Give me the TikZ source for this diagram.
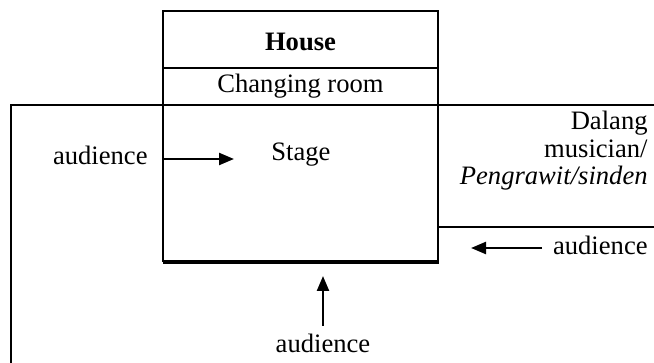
\documentclass[tikz,border=0pt]{standalone}
\usepackage{fontspec}
\setmainfont{Liberation Serif}
\usetikzlibrary{arrows.meta}
\begin{document}
\begin{tikzpicture}[x=0.5pt,y=-0.5pt,
  every node/.style={font=\fontsize{13.3}{13.6}\selectfont, inner sep=0pt},
  wall/.style={line width=1.15pt, line cap=rect},
  edge/.style={line width=2.4pt},
  arr/.style={line width=1.2pt, -{Triangle[length=7.5pt,width=6pt]}}]
\useasboundingbox (0,0) rectangle (654,363);
% main box
\draw[wall] (163,11) rectangle (438,261);
\draw[wall] (163,68) -- (438,68);
\draw[wall] (163,105) -- (438,105);
\draw[edge] (163,262) -- (439,262);
% outer walls
\draw[wall] (11,363) -- (11,105) -- (163,105);
\draw[wall] (438,105) -- (654,105);
\draw[wall] (438,227) -- (654,227);
% texts
\node[font=\fontsize{13.3}{13.6}\selectfont\bfseries] (house) at (300.5,42) {House};
\node (changing) at (300.5,86) {Changing room};
\node (stage) at (301,155) {Stage};
\node[anchor=east] (audL) at (148,155) {audience};
\node[anchor=north east, align=right] (dalang) at (648,111) {Dalang\\musician/\\\textit{Pengrawit/sinden}};
\node[anchor=east] (audR) at (648,245) {audience};
\node (audB) at (323,343) {audience};
% arrows
\coordinate (aLs) at (163,159);
\coordinate (aLe) at (234,159);
\coordinate (aRs) at (542,248);
\coordinate (aRe) at (471,248);
\coordinate (aBs) at (323,326);
\coordinate (aBe) at (323,276);
\draw[arr] (aLs) -- (aLe);
\draw[arr] (aRs) -- (aRe);
\draw[arr] (aBs) -- (aBe);
\end{tikzpicture}
\end{document}
